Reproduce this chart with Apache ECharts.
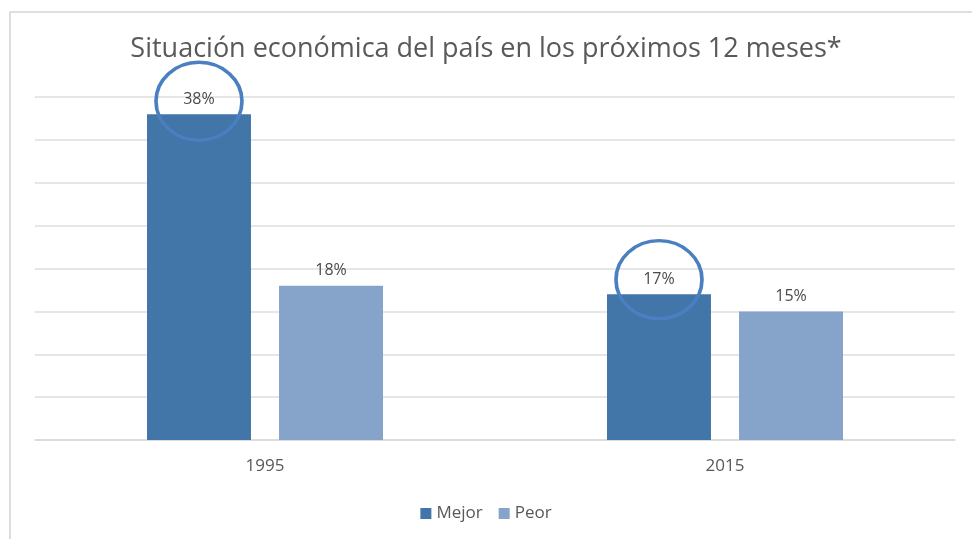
<!DOCTYPE html>
<html>
<head>
<meta charset="utf-8">
<script src="https://cdn.jsdelivr.net/npm/echarts@6/dist/echarts.min.js"></script>
<style>
  html, body { margin: 0; padding: 0; background: #fff; }
  #main { width: 972px; height: 539px; }
</style>
</head>
<body>
<div id="main"></div>
<script>
// datos
const years = ['1995', '2015']
const mejor = [38, 17]
const peor = [18, 15]
// elipses de resalte (centro en valor del eje)
const circled = [['1995', 39.5], ['2015', 18.7]]

const myChart = echarts.init(document.getElementById('main'))
const textColor = '#595959'
const option = {
  animation: false,
  textStyle: { fontFamily: 'Open Sans' },
  title: {
    text: 'Situación económica del país en los próximos 12 meses*',
    left: 'center',
    top: 31,
    textStyle: { fontSize: 27, fontWeight: 'normal', color: textColor, fontFamily: 'Open Sans' }
  },
  graphic: [
    {
      type: 'rect',
      shape: { x: 10, y: 12, width: 1000, height: 600 },
      style: { fill: 'none', stroke: '#d4d4d4', lineWidth: 1.5 },
      silent: true
    }
  ],
  legend: {
    bottom: 12,
    left: 'center',
    icon: 'rect',
    itemWidth: 11,
    itemHeight: 11,
    itemGap: 16,
    textStyle: { fontSize: 17, color: textColor },
    data: ['Mejor', 'Peor']
  },
  grid: { left: 35, right: 17, top: 97, bottom: 99 },
  xAxis: {
    type: 'category',
    data: years,
    axisLine: { lineStyle: { color: '#d9d9d9', width: 1.5 } },
    axisTick: { show: false },
    axisLabel: { fontSize: 17, color: textColor, margin: 18 }
  },
  yAxis: {
    type: 'value',
    min: 0,
    max: 40,
    interval: 5,
    axisLabel: { show: false },
    axisLine: { show: false },
    axisTick: { show: false },
    splitLine: { lineStyle: { color: '#dedede', width: 1.5 } }
  },
  series: [
    {
      name: 'Mejor',
      type: 'bar',
      data: mejor,
      barWidth: '22.6%',
      barGap: '27%',
      itemStyle: { color: '#4275a8' },
      label: { show: true, position: 'top', distance: 7, formatter: '{c}%', fontSize: 16, color: '#4a4a4a' },
      markPoint: {
        symbol: 'circle',
        symbolSize: [86, 78],
        silent: true,
        itemStyle: { color: 'rgba(0,0,0,0)', borderColor: '#4a7fc0', borderWidth: 3.5 },
        label: { show: false },
        data: circled.map(c => ({ coord: c }))
      }
    },
    {
      name: 'Peor',
      type: 'bar',
      data: peor,
      barWidth: '22.6%',
      itemStyle: { color: '#86a3ca' },
      label: { show: true, position: 'top', distance: 7, formatter: '{c}%', fontSize: 16, color: '#4a4a4a' }
    }
  ]
}
myChart.setOption(option)
</script>
</body>
</html>
